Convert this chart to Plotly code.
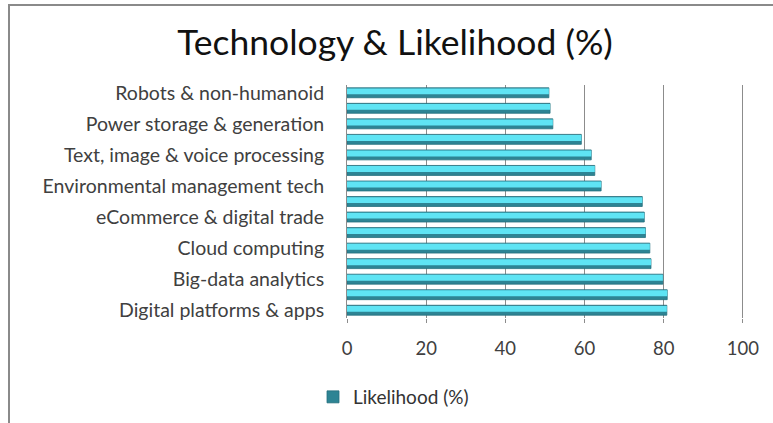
import plotly.graph_objects as go

# Categories listed top-to-bottom as shown in the chart
categories = [
    "Robots & non-humanoid",
    "Wearable electronics",
    "Power storage & generation",
    "3D printing",
    "Text, image & voice processing",
    "New materials",
    "Environmental management tech",
    "Encryption & cybersecurity",
    "eCommerce & digital trade",
    "Augmented & virtual reality",
    "Cloud computing",
    "Internet of things",
    "Big-data analytics",
    "Machine learning",
    "Digital platforms & apps",
]
likelihood = [51.0, 51.3, 52.0, 59.2, 61.7, 62.6, 64.2, 74.6, 75.1, 75.4, 76.5, 76.8, 79.8, 80.9, 80.8]
labeled = [
    "Robots & non-humanoid",
    "Power storage & generation",
    "Text, image & voice processing",
    "Environmental management tech",
    "eCommerce & digital trade",
    "Cloud computing",
    "Big-data analytics",
    "Digital platforms & apps",
]
x_ticks = [0, 20, 40, 60, 80, 100]
series_name = "Likelihood (%)"
title = "Technology & Likelihood (%)"

FONT = "Lato"
W, H = 773, 423

fig = go.Figure()
# dark base of each bar
fig.add_trace(go.Bar(
    y=categories, x=likelihood, orientation="h", name=series_name,
    marker=dict(color="#2d8494", line=dict(color="#24707d", width=0.8)),
    width=0.64, offset=-0.32, showlegend=True,
))
# light highlight on upper part of each bar
fig.add_trace(go.Bar(
    y=categories, x=likelihood, orientation="h", name=series_name,
    marker=dict(color="#5fe4f4", line=dict(width=0)),
    width=0.38, offset=-0.28, showlegend=False, hoverinfo="skip",
))

fig.update_layout(
    width=W, height=H,
    barmode="overlay",
    paper_bgcolor="white", plot_bgcolor="white",
    margin=dict(l=347, r=29, t=85, b=105, autoexpand=False),
    title=dict(text=title, x=395 / W, xanchor="center", xref="container",
               y=1 - 43 / H, yanchor="middle", yref="container",
               font=dict(family=FONT, size=35.5, color="#111111")),
    font=dict(family=FONT, color="#404040"),
    showlegend=True,
    legend=dict(x=313 / W, y=1 - 397 / H, xanchor="left", yanchor="middle",
                xref="container", yref="container",
                font=dict(family=FONT, size=19, color="#333333"),
                itemwidth=30, bgcolor="rgba(0,0,0,0)"),
    xaxis=dict(range=[0, 100.3], tickvals=x_ticks, showgrid=True, gridcolor="#8c8c8c",
               gridwidth=1, zeroline=False, showline=False,
               ticks="outside", ticklen=4, tickcolor="#8c8c8c",
               ticklabelstandoff=10, tickangle=0, automargin=False,
               tickfont=dict(family=FONT, size=18.5, color="#404040"),
               fixedrange=True),
    yaxis=dict(categoryorder="array", categoryarray=categories, autorange="reversed",
               tickmode="array", tickvals=labeled, ticktext=labeled,
               showgrid=False, showline=True, linecolor="#8c8c8c", linewidth=1,
               ticks="", ticklabelstandoff=18, automargin=False,
               tickfont=dict(family=FONT, size=19.5, color="#404040"),
               fixedrange=True),
    shapes=[dict(type="rect", xref="paper", yref="paper",
                 x0=(9 - 347) / (W - 347 - 29), x1=1.2,
                 y0=-1, y1=1 + (85 - 5) / (H - 85 - 105),
                 line=dict(color="#8a8a8a", width=2), fillcolor="rgba(0,0,0,0)",
                 layer="below")],
)

fig.write_html("out.html")
